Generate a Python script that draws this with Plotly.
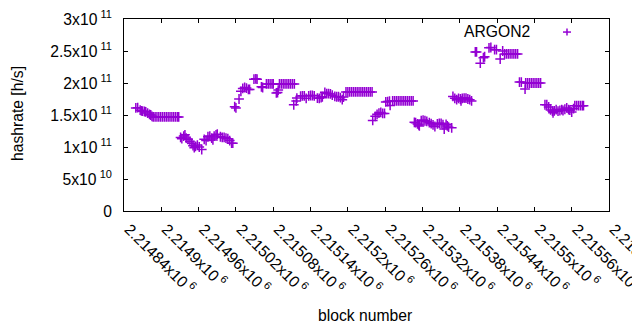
import plotly.graph_objects as go

# ---- data ----
blocks = [
    # cluster A
    2214859, 2214862, 2214866, 2214868, 2214870, 2214873, 2214875, 2214878, 2214881, 2214883, 2214885,
    2214887, 2214890, 2214893, 2214896, 2214899, 2214902, 2214905, 2214908, 2214911, 2214914, 2214917,
    2214920, 2214923, 2214926, 2214928,
    # cluster B
    2214931, 2214933, 2214936, 2214938, 2214940, 2214943, 2214946, 2214949, 2214951, 2214953, 2214955,
    2214958, 2214961, 2214965, 2214969, 2214972, 2214975, 2214978, 2214981, 2214983, 2214985, 2214988,
    2214990, 2214995, 2214998, 2215001, 2215004, 2215007, 2215010, 2215013, 2215015,
    # cluster C
    2215018, 2215020, 2215025, 2215028, 2215031, 2215034, 2215037, 2215040, 2215042, 2215049, 2215052,
    2215054, 2215061, 2215063, 2215069, 2215072, 2215075, 2215078, 2215080, 2215085, 2215087, 2215088,
    2215090, 2215093, 2215096, 2215099, 2215102, 2215105, 2215108, 2215111, 2215114,
    # cluster D
    2215113, 2215117, 2215118, 2215124, 2215127, 2215130, 2215133, 2215137, 2215140, 2215143, 2215146,
    2215151, 2215154, 2215157, 2215159, 2215163, 2215166, 2215169, 2215172, 2215175, 2215179, 2215182,
    2215185, 2215188, 2215191, 2215193,
    2215197, 2215200, 2215203, 2215206, 2215209, 2215212, 2215215, 2215218, 2215221, 2215224, 2215227,
    2215230, 2215233, 2215236, 2215239,
    # cluster E
    2215240, 2215244, 2215247, 2215250, 2215253, 2215256, 2215259, 2215261, 2215264, 2215267, 2215268,
    2215272, 2215275, 2215278, 2215281, 2215284, 2215287, 2215290, 2215293, 2215296, 2215299, 2215302,
    2215305,
    # cluster F
    2215307, 2215309, 2215312, 2215314, 2215315, 2215318, 2215321, 2215324, 2215327, 2215331, 2215334,
    2215337, 2215340, 2215344, 2215347, 2215350, 2215353, 2215355, 2215358, 2215360, 2215362, 2215367,
    # cluster G
    2215369, 2215372, 2215375, 2215378, 2215381, 2215382, 2215384, 2215387, 2215390, 2215393, 2215396,
    2215399,
    # cluster H
    2215405, 2215407, 2215413, 2215418, 2215420, 2215427, 2215430, 2215436, 2215439, 2215445, 2215449,
    2215452, 2215455, 2215458, 2215461, 2215464, 2215467, 2215470, 2215473,
    # cluster I
    2215476, 2215479, 2215485, 2215486, 2215489, 2215492, 2215495, 2215498, 2215501, 2215504, 2215507,
    2215510,
    # cluster J
    2215517, 2215520, 2215523, 2215526, 2215529, 2215530, 2215532, 2215535, 2215538, 2215541, 2215544,
    2215546, 2215549, 2215552, 2215555, 2215557, 2215560, 2215563, 2215565, 2215568, 2215571, 2215574,
    2215577, 2215579,
]

hashrate_ghs = [
    # cluster A
    161, 161.5, 157.5, 156.5, 156, 155.5, 155, 153, 151, 150, 148,
    147, 147, 147, 147, 147, 147, 147, 147, 147, 147, 147,
    147, 147, 147, 147,
    # cluster B
    115, 113, 117, 119, 114, 112, 109, 106, 102, 99, 101,
    103, 100, 96, 112, 110, 116, 117, 114, 111, 117, 119,
    120, 116, 115, 115, 114, 113, 110, 106, 106,
    # cluster C
    163, 161, 175, 187, 191.5, 193, 192, 190, 190, 206, 206.5,
    206, 194, 193, 198.5, 198.5, 198.5, 198.5, 198.5, 184.5, 185, 189,
    198.5, 198.5, 198.5, 198.5, 198.5, 198.5, 198.5, 198.5, 198.5,
    # cluster D
    166, 172, 176.5, 179.5, 180, 180, 176, 180, 180.5, 180.5, 180,
    176.5, 176, 177, 178.5, 185.5, 183.5, 183.5, 183, 181, 179, 178.5,
    178.5, 177, 174, 178,
    186, 186, 186, 186, 186, 186, 186, 186, 186, 186, 186,
    186, 186, 186, 186,
    # cluster E
    141.5, 148, 151, 153, 154, 152.5, 152.5, 170.5, 171, 171.5, 165,
    172, 172, 172, 172, 172, 172, 172, 172, 172, 172, 172,
    172,
    # cluster F
    138.5, 138, 136, 134.5, 133, 141, 142, 141, 140, 138, 136.5,
    134.5, 132, 136, 137, 137, 135, 128, 135.5, 133, 131, 130,
    # cluster G
    179, 176, 174, 176, 175, 172, 176, 176.5, 176.5, 175, 174,
    172,
    # cluster H
    248.5, 248.5, 231, 239.5, 241, 255, 255.5, 252, 252, 237.5, 250,
    245.5, 245.5, 245.5, 245.5, 245.5, 245.5, 245.5, 245.5,
    # cluster I
    201.5, 201.5, 190.5, 200, 200, 200, 200, 200, 200, 200, 200,
    200,
    # cluster J
    166, 166, 162.5, 158, 156, 153.5, 156.5, 158.5, 156, 157, 158.5,
    157, 159, 161, 158.5, 157.5, 154.5, 160, 164.5, 164.5, 164.5, 164.5,
    164.5, 164.5,
]

series_name = "ARGON2"

x_tickvals = [2214840, 2214900, 2214960, 2215020, 2215080, 2215140, 2215200,
              2215260, 2215320, 2215380, 2215440, 2215500, 2215560, 2215620]
x_ticktext = ["2.21484x10<sup> 6</sup>", "2.2149x10<sup> 6</sup>", "2.21496x10<sup> 6</sup>",
              "2.21502x10<sup> 6</sup>", "2.21508x10<sup> 6</sup>", "2.21514x10<sup> 6</sup>",
              "2.2152x10<sup> 6</sup>", "2.21526x10<sup> 6</sup>", "2.21532x10<sup> 6</sup>",
              "2.21538x10<sup> 6</sup>", "2.21544x10<sup> 6</sup>", "2.2155x10<sup> 6</sup>",
              "2.21556x10<sup> 6</sup>", "2.21562x10<sup> 6</sup>"]
y_tickvals = [0, 5e10, 1e11, 1.5e11, 2e11, 2.5e11, 3e11]
y_ticktext = ["0", "5x10<sup> 10</sup>", "1x10<sup> 11</sup>", "1.5x10<sup> 11</sup>",
              "2x10<sup> 11</sup>", "2.5x10<sup> 11</sup>", "3x10<sup> 11</sup>"]

COLOR = "#9400D3"
FONT = "Liberation Sans, Arial, sans-serif"
FS = 15.7

# the page body has an 8px default margin; compensate so the plot lands where the reference has it
OFF = 8

hashrate = [v * 1e9 for v in hashrate_ghs]

fig = go.Figure()
fig.add_trace(go.Scatter(
    x=blocks, y=hashrate, mode="markers", name=series_name, showlegend=False,
    marker=dict(symbol="cross-thin-open", size=7, color=COLOR,
                line=dict(color=COLOR, width=1.5)),
))

axis_common = dict(
    showgrid=False, zeroline=False, showline=True, linecolor="black", linewidth=1,
    mirror="ticks", ticks="inside", ticklen=4, tickcolor="black", tickwidth=1,
    tickfont=dict(family=FONT, size=FS, color="black"), ticklabeloverflow="allow",
)

fig.update_xaxes(range=[2214840, 2215620], tickmode="array", tickvals=x_tickvals,
                 ticktext=x_ticktext, tickangle=45, ticklabelshift=5, ticklabelstandoff=2,
                 **axis_common)
fig.update_yaxes(range=[0, 3e11], tickmode="array", tickvals=y_tickvals,
                 ticktext=y_ticktext, ticklabelstandoff=8, **axis_common)

# legend key (gnuplot style: text then sample)
lx, ly = 0.9134, 0.932
hx, hy = 4 / 485, 3.5 / 192
fig.add_shape(type="line", xref="paper", yref="paper", x0=lx - hx, x1=lx + hx, y0=ly, y1=ly,
              line=dict(color=COLOR, width=1.5))
fig.add_shape(type="line", xref="paper", yref="paper", x0=lx, x1=lx, y0=ly - hy, y1=ly + hy,
              line=dict(color=COLOR, width=1.5))
fig.add_annotation(text=series_name, xref="paper", yref="paper", x=0.842, y=0.9375,
                   xanchor="right", yanchor="middle", showarrow=False,
                   font=dict(family=FONT, size=FS, color="black"))

# axis titles
fig.add_annotation(text="hashrate [h/s]", xref="paper", yref="paper", x=-0.2206, y=0.505,
                   textangle=-90, xanchor="center", yanchor="middle", showarrow=False,
                   font=dict(family=FONT, size=FS, color="black"))
fig.add_annotation(text="block number", xref="paper", yref="paper", x=0.497, y=-0.5417,
                   xanchor="center", yanchor="middle", showarrow=False,
                   font=dict(family=FONT, size=FS, color="black"))

fig.update_layout(
    width=640 - OFF, height=330 - OFF,
    margin=dict(l=124 - OFF, r=31, t=19 - OFF, b=119, autoexpand=False),
    plot_bgcolor="white", paper_bgcolor="white",
    font=dict(family=FONT, size=FS, color="black"),
)

fig.write_html("out.html")
